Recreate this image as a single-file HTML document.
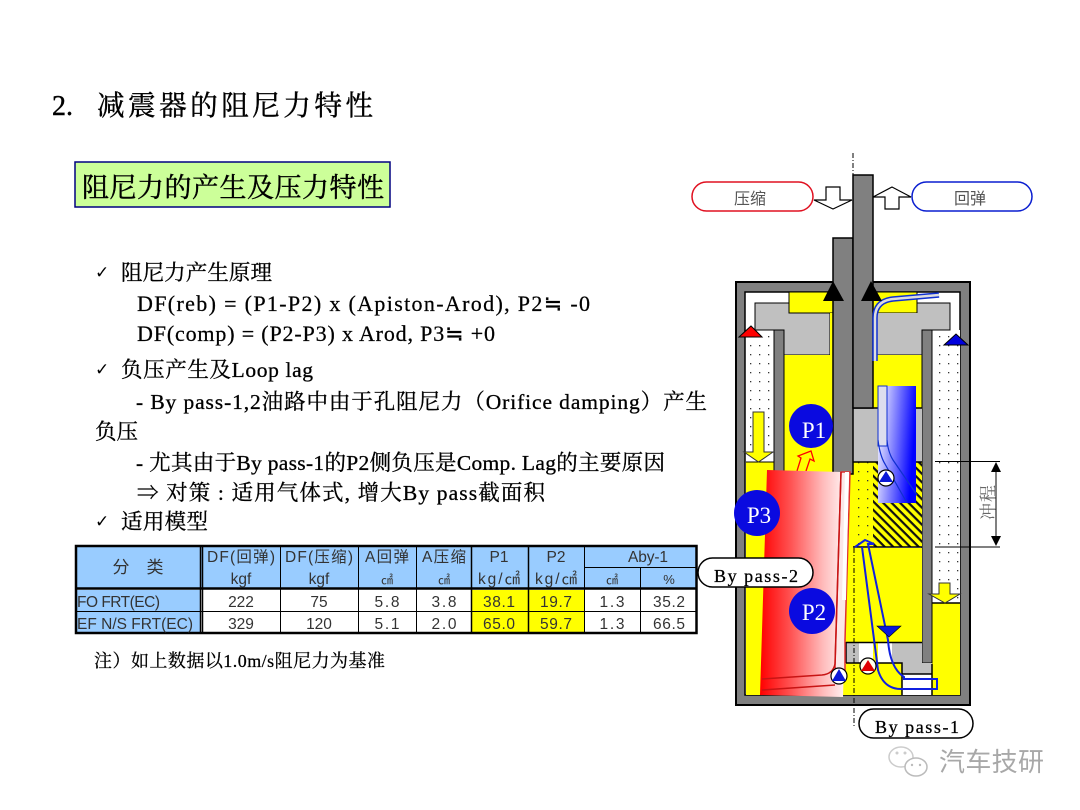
<!DOCTYPE html>
<html lang="zh"><head><meta charset="utf-8"><style>
html,body{margin:0;padding:0;background:#fff;width:1080px;height:810px;overflow:hidden}
svg{display:block}
.t{font-family:"Liberation Serif","Noto Serif CJK SC",serif;fill:#000}
.b{font-size:21.5px;stroke:#000;stroke-width:.3px}
.k{font-family:"DejaVu Sans",sans-serif;font-size:17px;fill:#000}
.f{font-size:22px;stroke:#000;stroke-width:.25px}
.c{font-family:"Liberation Sans","Noto Sans CJK SC",sans-serif;font-size:15.5px;fill:#333;text-anchor:middle}
.l{text-anchor:start}
</style></head><body>
<svg width="1080" height="810" viewBox="0 0 1080 810" xmlns="http://www.w3.org/2000/svg">
<defs>
<pattern id="dots" width="9" height="9" patternUnits="userSpaceOnUse"><rect width="9" height="9" fill="#fff"/><rect x="3" y="3" width="1.3" height="1.3" fill="#333"/></pattern>
<pattern id="ydots" width="9" height="9" patternUnits="userSpaceOnUse"><rect width="9" height="9" fill="#ff0"/><rect x="3" y="3" width="1.3" height="1.3" fill="#333"/></pattern>
<pattern id="hatch" width="6" height="6" patternUnits="userSpaceOnUse" patternTransform="rotate(45)"><rect width="6" height="6" fill="#ff0"/><rect width="6" height="2.2" fill="#111"/></pattern>
<linearGradient id="red" x1="0" y1="0" x2="1" y2="0"><stop offset="0" stop-color="#f00"/><stop offset=".35" stop-color="#f55"/><stop offset=".7" stop-color="#fbb"/><stop offset="1" stop-color="#fff"/></linearGradient>
<linearGradient id="blue" x1="0" y1="0" x2="1" y2=".25"><stop offset="0" stop-color="#fff"/><stop offset="1" stop-color="#00f"/></linearGradient>
</defs>

<!-- headings -->
<text class="t" x="52" y="115" font-size="28" stroke="#000" stroke-width=".4">2.</text>
<text class="t" x="97" y="115" font-size="27.600" textLength="276" stroke="#000" stroke-width=".4">减震器的阻尼力特性</text>
<rect x="75" y="162" width="315" height="45" fill="#ccff99" stroke="#000080" stroke-width="1.500"/>
<text class="t" x="82" y="197" font-size="27" textLength="302" stroke="#000" stroke-width=".4">阻尼力的产生及压力特性</text>

<!-- body -->
<text class="k" x="95" y="278">✓</text>
<text class="t b" x="121" y="280" textLength="151">阻尼力产生原理</text>
<text class="t f" x="137" y="311" textLength="453">DF(reb) = (P1-P2) x (Apiston-Arod), P2≒ -0</text>
<text class="t f" x="137" y="341" textLength="358">DF(comp) = (P2-P3) x Arod, P3≒ +0</text>
<text class="k" x="95" y="375">✓</text>
<text class="t b" x="121" y="377" textLength="192">负压产生及Loop lag</text>
<text class="t b" x="136" y="409" textLength="571">- By pass-1,2油路中由于孔阻尼力（Orifice damping）产生</text>
<text class="t b" x="95" y="439" textLength="43">负压</text>
<text class="t b" x="136" y="470" textLength="529">- 尤其由于By pass-1的P2侧负压是Comp. Lag的主要原因</text>
<text class="t b" x="137" y="500" textLength="408">⇒ 对策 : 适用气体式, 增大By pass截面积</text>
<text class="k" x="95" y="527">✓</text>
<text class="t b" x="121" y="529" textLength="87">适用模型</text>
<text class="t" x="94" y="667" font-size="18" textLength="291" stroke="#000" stroke-width=".25">注）如上数据以1.0m/s阻尼力为基准</text>

<!-- table -->
<rect x="76" y="546" width="620" height="87" fill="#fff"/>
<rect x="76" y="546" width="620" height="42" fill="#99ccff"/>
<rect x="76" y="590" width="125" height="43" fill="#99ccff"/>
<rect x="472" y="590" width="112" height="43" fill="#ff0"/>
<g stroke="#000" stroke-width="1" fill="none">
<path d="M280.500 546V633M358.500 546V633M416.500 546V633M640.500 567V633M584.500 546V633M76 611.500H696M584 567.500H696"/>
<path d="M200.500 546V633M202.500 546V633M471.500 546V633M528.500 546V633" stroke-width="1.500"/>
<path d="M76 588.500H696" stroke-width="2.500"/>
<rect x="76" y="546" width="620.500" height="87" stroke-width="2.500"/>
</g>
<text class="c" x="138" y="573" style="font-size:17px">分　类</text>
<text class="c" x="241" y="562" textLength="68">DF(回弹)</text><text class="c" x="241" y="584">kgf</text>
<text class="c" x="319" y="562" textLength="68">DF(压缩)</text><text class="c" x="319" y="584">kgf</text>
<text class="c" x="387" y="562" textLength="44">A回弹</text><text class="c" style="font-size:12px" x="387" y="584">㎠</text>
<text class="c" x="444" y="562" textLength="44">A压缩</text><text class="c" style="font-size:12px" x="444" y="584">㎠</text>
<text class="c" x="499" y="562">P1</text><text class="c" x="499" y="584" textLength="42">kg/㎠</text>
<text class="c" x="556" y="562">P2</text><text class="c" x="556" y="584" textLength="42">kg/㎠</text>
<text class="c" x="648" y="562" textLength="40">Aby-1</text>
<text class="c" style="font-size:12px" x="612" y="584">㎠</text><text class="c" style="font-size:13px" x="669" y="584">%</text>
<text class="c l" x="77" y="607" textLength="83">FO FRT(EC)</text>
<text class="c l" x="77" y="629" textLength="116">EF N/S FRT(EC)</text>
<text class="c" x="241" y="607">222</text><text class="c" x="319" y="607">75</text><text class="c" x="387" y="607" textLength="25">5.8</text><text class="c" x="444" y="607" textLength="25">3.8</text><text class="c" x="499" y="607" textLength="32">38.1</text><text class="c" x="556" y="607" textLength="32">19.7</text><text class="c" x="612" y="607" textLength="25">1.3</text><text class="c" x="669" y="607" textLength="32">35.2</text>
<text class="c" x="241" y="629">329</text><text class="c" x="319" y="629">120</text><text class="c" x="387" y="629" textLength="25">5.1</text><text class="c" x="444" y="629" textLength="25">2.0</text><text class="c" x="499" y="629" textLength="32">65.0</text><text class="c" x="556" y="629" textLength="32">59.7</text><text class="c" x="612" y="629" textLength="25">1.3</text><text class="c" x="669" y="629" textLength="32">66.5</text>

<!-- center line -->
<path d="M853 153V176" stroke="#000" stroke-width="1" stroke-dasharray="5 2 1 2"/>

<!-- top pills and arrows -->
<rect x="692" y="182" width="121" height="29" rx="14.500" fill="#fff" stroke="#e01020" stroke-width="1.500"/>
<text class="c" x="750" y="204" style="font-size:16px;fill:#555">压缩</text>
<rect x="912" y="182" width="120" height="29" rx="14.500" fill="#fff" stroke="#0a1ed0" stroke-width="1.500"/>
<text class="c" x="970" y="204" style="font-size:16px;fill:#555">回弹</text>
<path d="M814 200H826V187H840V200H852L833 209Z" fill="#fff" stroke="#000" stroke-width="1.200"/>
<path d="M873 197L892 187L911 197H899V209H885V197Z" fill="#fff" stroke="#000" stroke-width="1.200"/>

<!-- housing -->
<rect x="736" y="282" width="234" height="423" fill="#808080" stroke="#000" stroke-width="2"/>
<rect x="745" y="292" width="215" height="403" fill="#fff" stroke="#000" stroke-width="1.500"/>
<!-- annulus -->
<rect x="746" y="330" width="28" height="132" fill="url(#dots)"/>
<rect x="746" y="462" width="28" height="233" fill="#ff0"/>
<path d="M746 462H774" stroke="#000" stroke-width="1"/>
<rect x="932" y="330" width="28" height="273" fill="url(#dots)"/>
<rect x="932" y="603" width="28" height="92" fill="#ff0"/>
<path d="M932 603H960" stroke="#000" stroke-width="1.500"/>
<!-- guide light gray -->
<path d="M755 303H950V330H922V355H872V313H830V355H784V330H755Z" fill="#c0c0c0" stroke="#000" stroke-width="1"/>
<rect x="789" y="292" width="63" height="21" fill="#ff0" stroke="#000" stroke-width="1"/>
<rect x="830" y="313" width="3" height="42" fill="#ff0"/>
<rect x="872" y="292" width="45" height="21" fill="#ff0" stroke="#000" stroke-width="1"/>
<rect x="872" y="313" width="50" height="42" fill="#c0c0c0"/>
<path d="M872 355H922" stroke="#000" stroke-width="1"/>
<!-- chambers -->
<rect x="784" y="355" width="49" height="340" fill="#ff0"/>
<rect x="833" y="470" width="20" height="225" fill="#ff0"/>
<rect x="872" y="355" width="50" height="53" fill="#ff0"/>
<!-- inner tubes -->
<rect x="774" y="330" width="10" height="142" fill="#808080" stroke="#000" stroke-width="1"/>
<rect x="922" y="330" width="10" height="333" fill="#808080" stroke="#000" stroke-width="1"/>
<!-- piston -->
<rect x="852" y="408" width="70" height="54" fill="#c0c0c0"/>
<path d="M852 408H922" stroke="#000" stroke-width="1.500"/>
<rect x="853" y="462" width="20" height="85" fill="url(#ydots)"/>
<rect x="873" y="462" width="49" height="85" fill="url(#hatch)"/>
<path d="M853 462H922M853 547H922" stroke="#000" stroke-width="1.500"/>
<rect x="853" y="548" width="69" height="94" fill="#ff0"/>
<!-- rod -->
<rect x="833" y="238" width="20" height="236" fill="#808080" stroke="#000" stroke-width="1.500"/>
<rect x="853" y="175" width="20" height="233" fill="#808080" stroke="#000" stroke-width="1.500"/>
<!-- blue gradient -->
<rect x="878" y="386" width="38" height="117" fill="url(#blue)"/>
<rect x="878" y="386" width="9" height="60" fill="#dde" stroke="#1030d0" stroke-width="1"/>
<path d="M878 440Q880 456 885 464L907 503M887 440Q888 452 893 460L917 495" fill="none" stroke="#1030d0" stroke-width="1.200"/>
<!-- top bypass -->
<path d="M875 361V318Q875 301 893 299L939 295" fill="none" stroke="#1030d0" stroke-width="5.500"/>
<path d="M875 361V318Q875 301 893 299L939 295" fill="none" stroke="#ddd" stroke-width="2.500"/>
<!-- bottom valve -->
<rect x="846" y="642" width="76" height="53" fill="#ff0"/>
<rect x="846" y="643" width="13" height="20" fill="#c0c0c0"/>
<rect x="859" y="643" width="14" height="20" fill="#fff"/>
<rect x="873" y="643" width="5" height="20" fill="#ff0"/>
<rect x="878" y="643" width="14" height="20" fill="#fff"/>
<path d="M892 643H922V663H932V674H902V663H892Z" fill="#c0c0c0"/>
<rect x="902" y="674" width="30" height="21" fill="#fff"/>
<path d="M846 642.500H922M846 663H902V695M902 674H932M932 664V695M846 642V663" fill="none" stroke="#000" stroke-width="1.500"/>
<!-- yellow arrows -->
<path d="M753 412H764V452H773L758.500 462L744 452H753Z" fill="#ff0" stroke="#333" stroke-width="1"/>
<path d="M939 583H950V594H960L945 603L929 594H939Z" fill="#ff0" stroke="#333" stroke-width="1"/>
<!-- triangles -->
<path d="M823 301L833 281L844 301Z M861 301L871 281L882 301Z" fill="#000"/>
<path d="M739 337L751 326L762 337Z" fill="#f00" stroke="#000" stroke-width="1"/>
<path d="M944 345L956 334L968 345Z" fill="#00d" stroke="#000" stroke-width="1"/>
<!-- small red arrow -->
<path d="M797 471L801 458L798 456L811 451L814 461L810 459L806 471" fill="none" stroke="#f00" stroke-width="1.300"/>
<!-- red gradient -->
<path d="M767 470L842 472L850 472L843 697L760 695Z" fill="url(#red)"/>
<path d="M841 472H850L845 640V674L838 674L835 667L841 472Z" fill="#fbe8e8" stroke="#e03030" stroke-width="1.500"/>
<path d="M841 472L835 664Q833 674 822 675L762 679M762 690L835 685" fill="none" stroke="#c81414" stroke-width="1.500"/>
<path d="M847 472L844 600" fill="none" stroke="#fff" stroke-width="4"/>
<!-- bypass 1 -->
<path d="M855 547L865 540L874 544H868L888 640Q890 668 904 677L904 679H937V689H903Q884 690 878 670L862 547" fill="none" stroke="#1020e0" stroke-width="2"/>
<path d="M877 626H901L889 637Z" fill="#0a18d8" stroke="#000" stroke-width=".6"/>
<!-- center dash -->
<path d="M854 548V727" stroke="#000" stroke-width="1" stroke-dasharray="5 2 1 2"/>
<!-- valve markers -->
<g stroke="#000" stroke-width="1.200">
<circle cx="886" cy="478" r="8" fill="#fff"/><path d="M879 482L886 471L893 482Z" fill="#0a18d8" stroke="none"/>
<circle cx="868" cy="666" r="8" fill="#ffe"/><path d="M861 671L868 660L875 671Z" fill="#e00000" stroke="none"/>
<circle cx="839" cy="676" r="8" fill="#fff"/><path d="M832 681L839 669L846 681Z" fill="#0a18d8" stroke="none"/>
</g>
<!-- P circles -->
<circle cx="811" cy="426" r="22" fill="#0a0ae0"/>
<circle cx="757" cy="513" r="23" fill="#0a0ae0"/>
<circle cx="812" cy="611" r="23" fill="#0a0ae0"/>
<text class="t" x="814" y="438" font-size="23" text-anchor="middle" style="fill:#fff">P1</text>
<text class="t" x="759" y="523" font-size="23" text-anchor="middle" style="fill:#fff">P3</text>
<text class="t" x="814" y="620" font-size="23" text-anchor="middle" style="fill:#fff">P2</text>
<!-- stroke dim -->
<path d="M935 461.500H1000M935 547H1000M996 466V543" stroke="#000" stroke-width="1"/>
<path d="M996 462L991 472H1001ZM996 546L991 536H1001Z" fill="#000"/>
<text class="t" font-size="17" transform="translate(994 520) rotate(-90)" textLength="35" style="fill:#666">冲程</text>
<!-- bypass pills -->
<rect x="698" y="558" width="115" height="29" rx="14.500" fill="#fff" stroke="#000" stroke-width="1.500"/>
<text class="t" x="714" y="582" font-size="18" textLength="84" stroke="#000" stroke-width=".3">By pass-2</text>
<rect x="859" y="709" width="114" height="29" rx="14.500" fill="#fff" stroke="#000" stroke-width="1.500"/>
<text class="t" x="875" y="733" font-size="18" textLength="84" stroke="#000" stroke-width=".3">By pass-1</text>
<!-- watermark -->
<ellipse cx="901" cy="757" rx="12" ry="10" fill="#fff" stroke="#ccc" stroke-width="1.500"/>
<ellipse cx="916" cy="767" rx="11" ry="9" fill="#fff" stroke="#bbb" stroke-width="1.500"/>
<circle cx="897" cy="753" r="1.500" fill="#ccc"/><circle cx="905" cy="753" r="1.500" fill="#ccc"/><circle cx="912" cy="765" r="1.200" fill="#bbb"/><circle cx="920" cy="765" r="1.200" fill="#bbb"/>
<text x="939" y="771" font-size="26" textLength="105" style="font-family:'Liberation Sans','Noto Sans CJK SC',sans-serif;fill:#a8a8a8">汽车技研</text>
</svg>
</body></html>
